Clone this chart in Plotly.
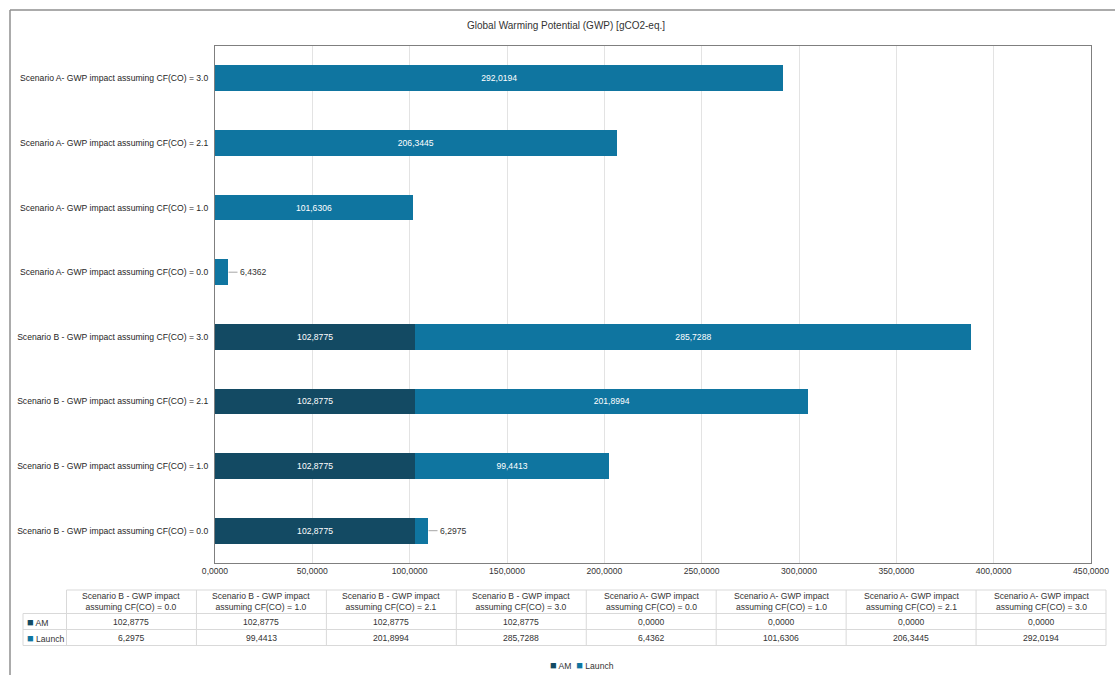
import plotly.graph_objects as go

# ---------------- data ----------------
categories = [
    "Scenario B - GWP impact assuming CF(CO) = 0.0",
    "Scenario B - GWP impact assuming CF(CO) = 1.0",
    "Scenario B - GWP impact assuming CF(CO) = 2.1",
    "Scenario B - GWP impact assuming CF(CO) = 3.0",
    "Scenario A- GWP impact assuming CF(CO) = 0.0",
    "Scenario A- GWP impact assuming CF(CO) = 1.0",
    "Scenario A- GWP impact assuming CF(CO) = 2.1",
    "Scenario A- GWP impact assuming CF(CO) = 3.0",
]
am_values = [102.8775, 102.8775, 102.8775, 102.8775, 0.0, 0.0, 0.0, 0.0]
launch_values = [6.2975, 99.4413, 201.8994, 285.7288, 6.4362, 101.6306, 206.3445, 292.0194]
x_tick_values = [0, 50, 100, 150, 200, 250, 300, 350, 400, 450]
series_names = ["AM", "Launch"]
title_text = "Global Warming Potential (GWP) [gCO2-eq.]"

# ---------------- style ----------------
COL_AM = "#134A63"
COL_LAUNCH = "#0F75A0"
TXT = "#333333"
GRID = "#E3E3E3"
TBL_LINE = "#D9D9D9"
FONT = "Liberation Sans, Arial, sans-serif"
FS = 8.6

W, H = 1115, 675
L, R, T, B = 215, 24, 46, 112
PW, PH = W - L - R, H - T - B


def px(xp):
    return (xp - L) / PW


def py(yp):
    return (H - B - yp) / PH


def fmt(v):
    return f"{v:.4f}".replace(".", ",")


def key(col):
    return f"<span style='color:{col};font-size:11px'>■</span>"


SMALL = 20  # values narrower than this are labelled outside

fig = go.Figure()
series_values = [am_values, launch_values]
series_colors = [COL_AM, COL_LAUNCH]
for name, vals, col in zip(series_names, series_values, series_colors):
    texts = [fmt(v) if v >= SMALL else "" for v in vals]
    fig.add_trace(go.Bar(
        name=name, y=categories, x=vals, orientation="h",
        marker=dict(color=col, line=dict(width=0)),
        text=texts, textposition="inside", insidetextanchor="middle",
        textangle=0, constraintext="none",
        textfont=dict(color="white", size=FS, family=FONT),
        showlegend=False,
    ))

annotations = []
shapes = []

# outside labels for small launch values (with leader line)
for cat, a, l in zip(categories, am_values, launch_values):
    if 0 < l < SMALL:
        annotations.append(dict(
            x=a + l, y=cat, xref="x", yref="y", text=fmt(l),
            showarrow=True, arrowhead=0, arrowwidth=1, arrowcolor="#A6A6A6",
            ax=10, ay=0, xanchor="left", standoff=1,
            font=dict(size=FS, color=TXT, family=FONT),
        ))

# title
annotations.append(dict(
    x=px(566), y=py(25), xref="paper", yref="paper", text=title_text,
    showarrow=False, xanchor="center", yanchor="middle",
    font=dict(size=10, color=TXT, family=FONT),
))

# legend (compact keys like the reference)
legend_text = "  ".join(f"{key(c)} {n}" for n, c in zip(series_names, series_colors))
annotations.append(dict(
    x=px(582), y=py(665), xref="paper", yref="paper", text=legend_text,
    showarrow=False, xanchor="center", yanchor="middle",
    font=dict(size=FS, color=TXT, family=FONT),
))

# ---------------- data table ----------------
tbl_left, tbl_c1 = 23, 66.5
tbl_right = 1106
col_w = (tbl_right - tbl_c1) / len(categories)
y_head_top, y_head_bot = 590, 613.5
row_h = 16
rows = list(zip(series_names, series_values, series_colors))
y_rows_bot = [y_head_bot + row_h * (i + 1) for i in range(len(rows))]

line = dict(color=TBL_LINE, width=1)
shapes.append(dict(type="line", xref="paper", yref="paper",
                   x0=px(tbl_c1), x1=px(tbl_right), y0=py(y_head_top), y1=py(y_head_top), line=line))
for yy in [y_head_bot] + y_rows_bot:
    shapes.append(dict(type="line", xref="paper", yref="paper",
                       x0=px(tbl_left), x1=px(tbl_right), y0=py(yy), y1=py(yy), line=line))
shapes.append(dict(type="line", xref="paper", yref="paper",
                   x0=px(tbl_left), x1=px(tbl_left), y0=py(y_head_bot), y1=py(y_rows_bot[-1]), line=line))
for i in range(len(categories) + 1):
    xx = tbl_c1 + i * col_w
    shapes.append(dict(type="line", xref="paper", yref="paper",
                       x0=px(xx), x1=px(xx), y0=py(y_head_top), y1=py(y_rows_bot[-1]), line=line))

for i, cat in enumerate(categories):
    xc = tbl_c1 + (i + 0.5) * col_w
    annotations.append(dict(
        x=px(xc), y=py((y_head_top + y_head_bot) / 2), xref="paper", yref="paper",
        text=cat.replace(" assuming", "<br>assuming"), showarrow=False,
        xanchor="center", yanchor="middle", align="center",
        font=dict(size=FS, color=TXT, family=FONT),
    ))
    for r, (rname, rvals, rcol) in enumerate(rows):
        yc = y_head_bot + row_h * (r + 0.5)
        annotations.append(dict(
            x=px(xc), y=py(yc), xref="paper", yref="paper", text=fmt(rvals[i]),
            showarrow=False, xanchor="center", yanchor="middle",
            font=dict(size=FS, color=TXT, family=FONT),
        ))

for r, (rname, rvals, rcol) in enumerate(rows):
    yc = y_head_bot + row_h * (r + 0.5)
    annotations.append(dict(
        x=px(tbl_left + 2), y=py(yc), xref="paper", yref="paper",
        text=f"{key(rcol)} {rname}",
        showarrow=False, xanchor="left", yanchor="middle",
        font=dict(size=FS, color=TXT, family=FONT),
    ))

# outer chart frame (extends past the window)
frame = dict(color="#8F8F8F", width=1.5)
shapes.append(dict(type="line", xref="paper", yref="paper",
                   x0=px(10), x1=px(1130), y0=py(10), y1=py(10), line=frame))
shapes.append(dict(type="line", xref="paper", yref="paper",
                   x0=px(10), x1=px(10), y0=py(10), y1=py(690), line=frame))

fig.update_layout(
    width=W, height=H,
    margin=dict(l=L, r=R, t=T, b=B, autoexpand=False),
    paper_bgcolor="white", plot_bgcolor="white",
    barmode="stack", bargap=0.6,
    separators=", ",
    showlegend=False,
    font=dict(family=FONT, size=FS, color=TXT),
    xaxis=dict(
        range=[0, 450], tickvals=x_tick_values, tickformat=".4f",
        showgrid=True, gridcolor=GRID, gridwidth=1,
        showline=True, linecolor="#7F7F7F", linewidth=1, mirror=True,
        zeroline=False, ticks="", fixedrange=True,
        tickfont=dict(size=FS, color=TXT, family=FONT),
    ),
    yaxis=dict(
        categoryorder="array", categoryarray=categories,
        showgrid=False, showline=True, linecolor="#7F7F7F", linewidth=1, mirror=True,
        ticks="", ticklabelstandoff=4,
        tickfont=dict(size=FS, color="#262626", family=FONT),
    ),
    annotations=annotations,
    shapes=shapes,
)

fig.write_html("out.html")
